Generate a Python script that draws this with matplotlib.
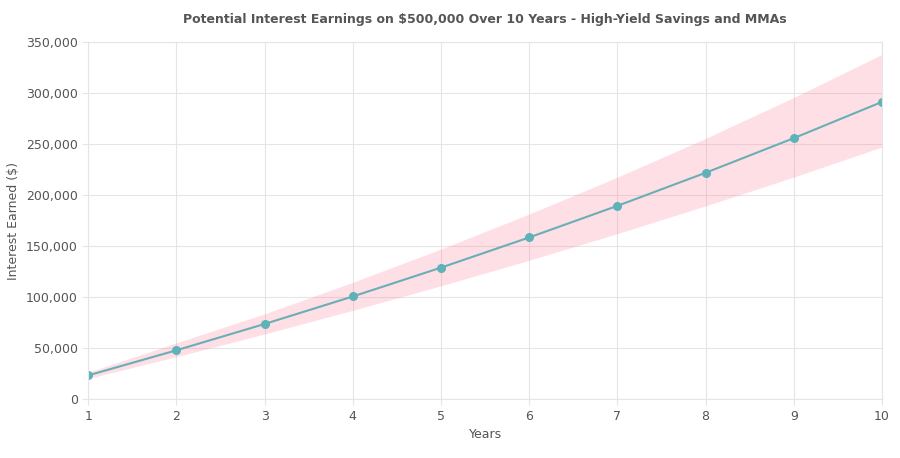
import matplotlib.pyplot as plt
from matplotlib.ticker import FuncFormatter

# Data
years = [1, 2, 3, 4, 5, 6, 7, 8, 9, 10]
interest_mid = [23500, 48100, 73860, 100820, 129080, 158660, 189620, 222020, 255930, 291450]
interest_high = [26500, 55400, 83800, 114700, 147300, 181600, 217700, 255700, 295800, 338000]
interest_low = [20500, 41850, 64050, 87200, 111250, 136300, 162400, 189550, 217800, 247250]
y_ticks = [0, 50000, 100000, 150000, 200000, 250000, 300000, 350000]

fig, ax = plt.subplots(figsize=(9, 4.58), dpi=100)
fig.subplots_adjust(left=0.098, right=0.98, top=0.908, bottom=0.128)

ax.fill_between(years, interest_low, interest_high, color=(1, 0.39, 0.52, 0.2), linewidth=0)
ax.plot(years, interest_mid, color="#6aaeb6", linewidth=1.5, marker="o",
        markersize=5.5, markerfacecolor="#5fb3b8", markeredgecolor="#5fb3b8")

ax.set_xlim(1, 10)
ax.set_ylim(0, 350000)
ax.set_xticks(years)
ax.set_yticks(y_ticks)
ax.yaxis.set_major_formatter(FuncFormatter(lambda v, p: f"{int(v):,}"))
ax.grid(True, color="#e5e5e5", linewidth=0.8)
ax.set_axisbelow(True)
for s in ax.spines.values():
    s.set_color("#e5e5e5")
ax.tick_params(colors="#555555", labelsize=9, length=4)
ax.tick_params(axis="both", color="#e5e5e5", labelcolor="#555555")

ax.set_title("Potential Interest Earnings on $500,000 Over 10 Years - High-Yield Savings and MMAs",
             fontsize=9, fontweight="bold", color="#555555", pad=14)
ax.set_xlabel("Years", fontsize=9, color="#555555")
ax.set_ylabel("Interest Earned ($)", fontsize=9, color="#555555")

plt.savefig("out.png", dpi=100)
